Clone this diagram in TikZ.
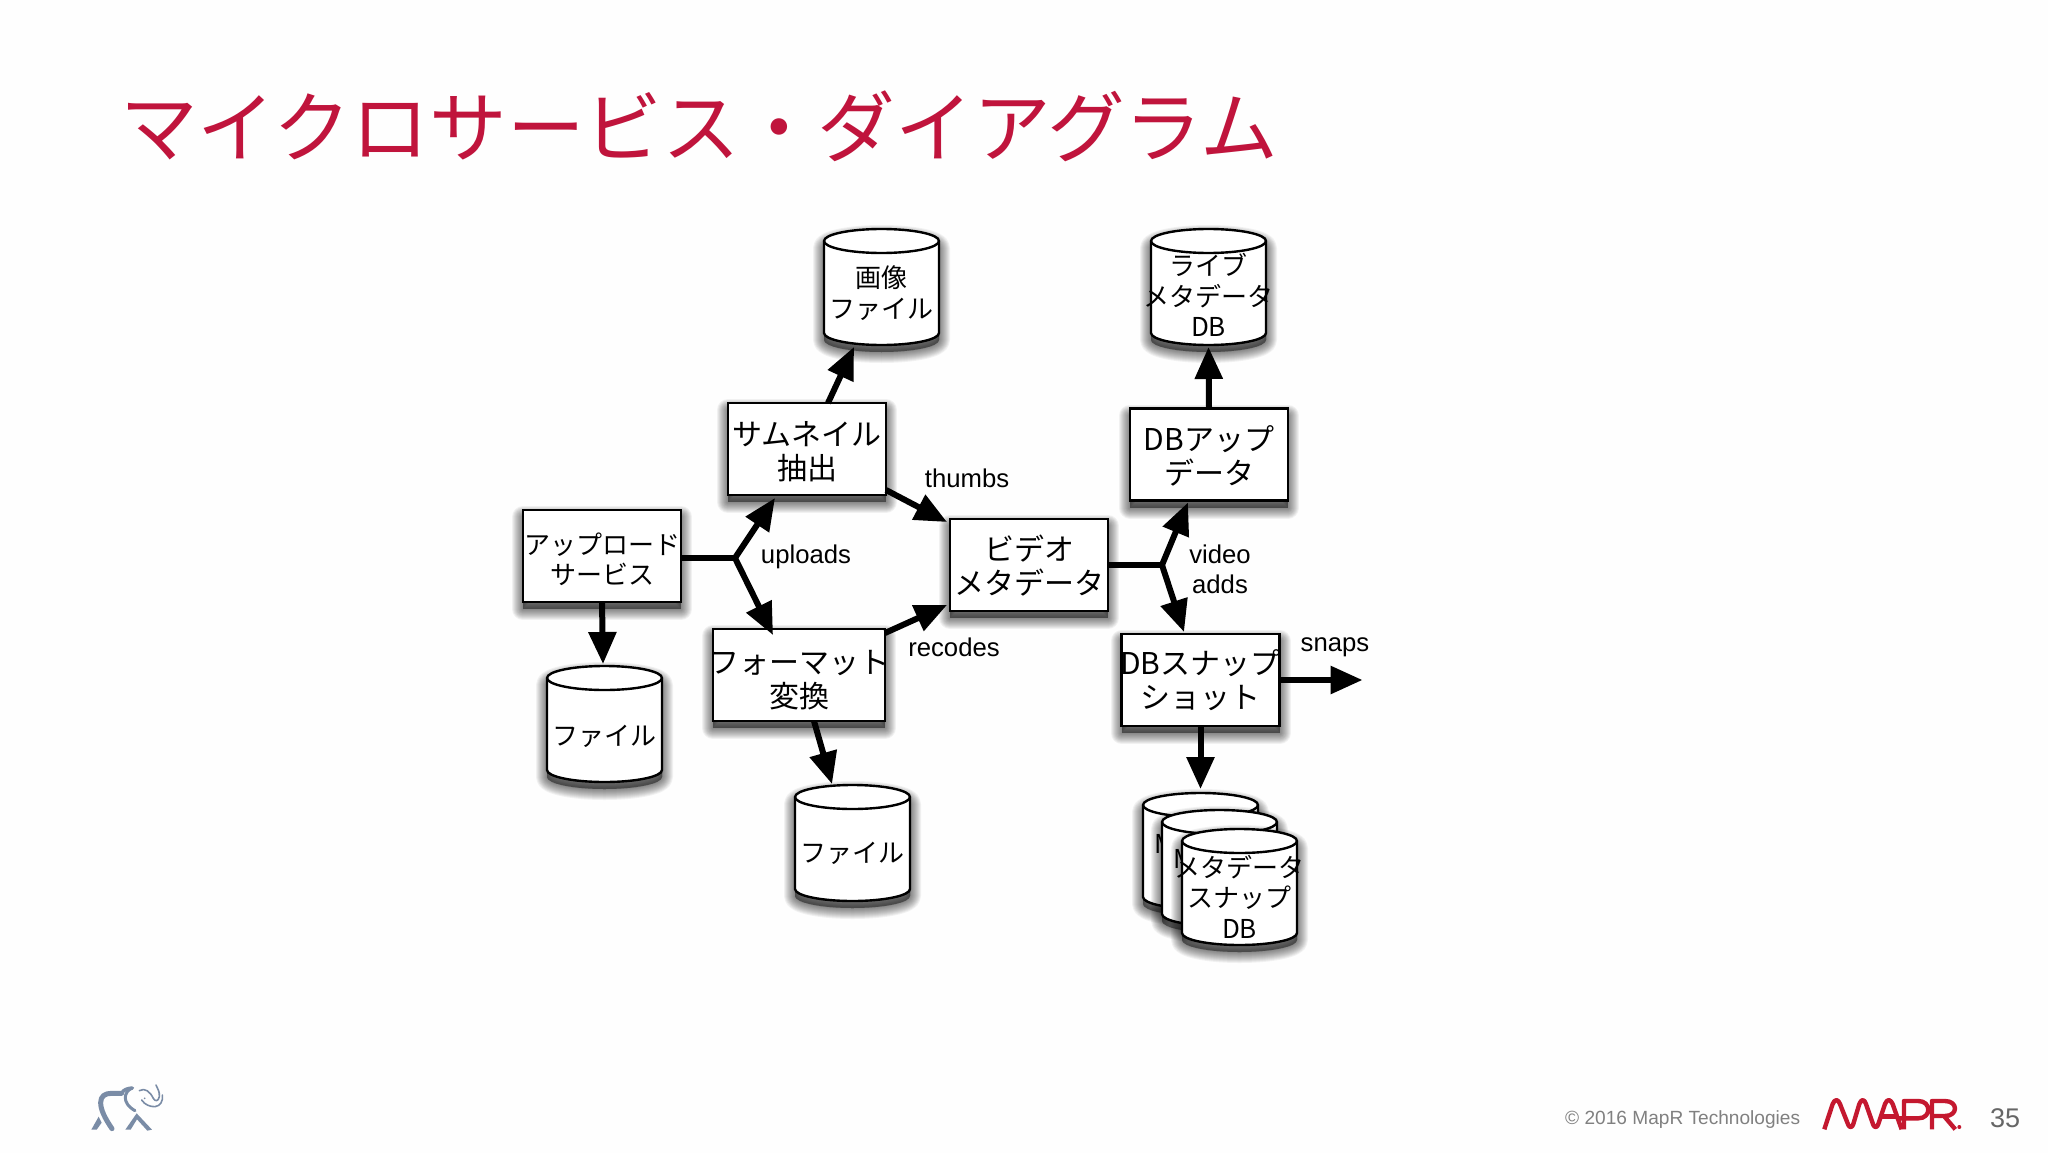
\documentclass[tikz,border=0pt]{standalone}
\usepackage{fontspec}
\setmainfont{Liberation Sans}
\newfontfamily\cjk{Noto Sans CJK JP}
\usetikzlibrary{arrows.meta,calc}
\definecolor{titlered}{HTML}{C0143C}
\definecolor{logored}{HTML}{C4182F}
\definecolor{elephant}{HTML}{7A8CA6}
\newcommand\ov[2][0pt]{\raisebox{-#1}[0pt][0pt]{\makebox[0pt][c]{#2}}}
\tikzset{
  shpass/.style={preaction={draw=black,fill=black,draw opacity=.05,fill opacity=.05,line join=round,line width=#1,transform canvas={yshift=-7pt}}},
  softshadow/.style={shpass=22pt,shpass=20pt,shpass=18pt,shpass=16pt,shpass=14pt,shpass=12pt,shpass=10pt,shpass=8pt,shpass=6pt,shpass=4pt,shpass=2pt},
  procbox/.style={draw=black,fill=white,line width=2.6pt,inner sep=0pt,outer sep=0pt,minimum height=92pt,align=center,softshadow,font=\cjk\fontsize{30}{34}\selectfont},
  cylbody/.style={draw=black,fill=white,line width=2.4pt,softshadow},
  cylline/.style={draw=black,line width=2.4pt},
  cyltext/.style={inner sep=0pt,outer sep=0pt,minimum width=115pt,minimum height=104pt,align=center,font=\cjk\fontsize{26}{30.5}\selectfont},
  lnk/.style={draw=black,line width=6pt},
  arr/.style={lnk,-{Triangle[length=32pt,width=27pt]}},
  lbl/.style={inner sep=0pt,font=\fontsize{25.7}{29}\selectfont,align=center},
  foot/.style={inner sep=0pt,text=black!50,font=\fontsize{19.1}{22}\selectfont},
  logoline/.style={draw=logored,line width=4.4pt,line join=round,line cap=butt},
  eleline/.style={draw=elephant,line cap=round,line join=round},
}
\newcommand\dbcyl[4]{%
  \begin{scope}[shift={(#2,#3)}]
    \draw[cylbody] (0,12) arc[start angle=180,end angle=0,x radius=57.5pt,y radius=12pt] -- (115,104) arc[start angle=0,end angle=-180,x radius=57.5pt,y radius=12pt] -- cycle;
    \draw[cylline] (0,12) arc[start angle=180,end angle=360,x radius=57.5pt,y radius=12pt];
    \node[cyltext] (#1) at (57.5,64) {#4};
  \end{scope}}
\begin{document}
\begin{tikzpicture}[x=1pt,y=-1pt]
\fill[fill=black!0.5!white] (0,0) rectangle (2048,1153);
\useasboundingbox (0,0) rectangle (2048,1153);

\node[inner sep=0pt,text=titlered,font=\cjk\fontsize{77.7}{86}\selectfont] (title) at (699,126) {マイクロサービス・ダイアグラム};

% process boxes
\node[procbox,minimum width=158pt] (thumb) at (807,449) {\ov[13.3pt]{サムネイル}\\\ov[13.3pt]{抽出}};
\node[procbox,minimum width=158pt,font=\cjk\fontsize{26}{30}\selectfont] (upload) at (602,556) {\ov[13.5pt]{アップロード}\\\ov[13.5pt]{サービス}};
\node[procbox,minimum width=172pt] (format) at (799,675) {\ov[15.6pt]{フォーマット}\\\ov[15.6pt]{変換}};
\node[procbox,minimum width=158pt] (video) at (1029,565) {\ov[12pt]{ビデオ}\\\ov[12pt]{メタデータ}};
\node[procbox,minimum width=158pt] (dbup) at (1209,454.5) {\ov[13.4pt]{DBアップ}\\\ov[13.4pt]{データ}};
\node[procbox,minimum width=158pt] (snap) at (1200.5,680) {\ov[11.9pt]{DBスナップ}\\\ov[11.9pt]{ショット}};

% databases
\dbcyl{image}{824}{229}{\ov[10pt]{画像}\\\ov[10pt]{ファイル}}
\dbcyl{live}{1151}{229}{\ov[13.3pt]{ライブ}\\\ov[13.3pt]{メタデータ}\\\ov[13.3pt]{DB}}
\dbcyl{file1}{547}{666}{\ov[15.1pt]{ファイル}}
\dbcyl{file2}{795}{785}{\ov[13.8pt]{ファイル}}
\dbcyl{snapa}{1143}{793}{\ov[-4pt]{\hspace*{-70pt}M}}
\dbcyl{snapb}{1162}{810}{\ov[-6pt]{\hspace*{-70pt}M}}
\dbcyl{snapc}{1182}{829}{\ov[14.5pt]{メタデータ}\\\ov[14.5pt]{スナップ}\\\ov[14.5pt]{DB}}

% connectors
\coordinate (j1) at ($(upload.east)+(54,2)$);
\coordinate (j2) at ($(video.east)+(54,0)$);
\draw[lnk] ($(upload.east)+(0,2)$) -- (j1);
\draw[arr] (j1) -- ($(thumb.south)+(-32,3)$);
\draw[arr] (j1) -- ($(format.north)+(-26,6)$);
\draw[arr] ($(thumb.east)+(0,41)$) -- ($(video.north west)+(-3,3)$);
\draw[arr] ($(format.east)+(0,-42)$) -- ($(video.south west)+(-3,-6)$);
\draw[arr] ($(thumb.north)+(21,0)$) -- ($(image.south)+(-27.5,2)$);
\draw[arr] (upload.south) -- ($(file1.north)+(-1.5,-14)$);
\draw[arr] ($(format.south)+(15,0)$) -- ($(file2.north)+(-20.5,-13)$);
\draw[lnk] (video.east) -- (j2);
\draw[arr] (j2) -- ($(dbup.south)+(-21,2)$);
\draw[arr] (j2) -- ($(snap.north)+(-16.5,-2)$);
\draw[arr] (dbup.north) -- ($(live.south)+(0,2)$);
\coordinate (snapout) at ($(snap.east)+(83,0)$);
\draw[arr] (snap.east) -- (snapout);
\draw[arr] (snap.south) -- ($(snapa.north)+(0,-16)$);

% connector labels
\node[lbl] (luploads) at (806,556.5) {uploads};
\node[lbl] (lthumbs) at (967,478) {thumbs};
\node[lbl] (lrecodes) at (954,647) {recodes};
\node[lbl] (lvideo) at (1220,554) {video};
\node[lbl] (ladds) at (1220,584) {adds};
\node[lbl] (lsnaps) at (1335,647) {snaps};

% footer
\node[foot,anchor=west] (copy) at (1565,1120) {© 2016 MapR Technologies};
\node[foot,text=black!60,font=\fontsize{27}{30}\selectfont,anchor=west] (pagenum) at (1990,1118) {35};

% MapR logo
\begin{scope}[shift={(1540,1070)},x=0.3333pt,y=-0.3333pt]
  \draw[logoline] (853,178) -- (878,102) .. controls (885,85) and (895,88) .. (900,102) -- (925,165) .. controls (930,175) and (937,172) .. (940,162) -- (958,102) .. controls (965,85) and (973,88) .. (978,102) -- (1000,165) .. controls (1005,175) and (1012,172) .. (1015,162) -- (1035,102) .. controls (1042,85) and (1052,88) .. (1058,102) -- (1085,178);
  \draw[logoline] (1024,140) -- (1070,140);
  \draw[logoline] (1092,178) -- (1092,93) -- (1135,93) .. controls (1175,93) and (1175,145) .. (1135,145) -- (1075,145);
  \draw[logoline] (1176,178) -- (1176,93) -- (1215,93) .. controls (1255,93) and (1255,138) .. (1215,138) -- (1185,138) -- (1212,138) -- (1246,178);
  \fill[logored] (1258,171) circle[radius=6];
\end{scope}

% elephant logo
\begin{scope}[shift={(60,1060)},x=0.3333pt,y=-0.3333pt]
  \draw[eleline,line width=5pt] (156,206) .. controls (135,175) and (122,150) .. (122,128) .. controls (122,108) and (135,100) .. (155,100) -- (185,100);
  \draw[eleline,line width=3.5pt] (185,100) .. controls (190,88) and (205,85) .. (217,84);
  \draw[eleline,line width=3pt] (217,84) .. controls (190,95) and (185,130) .. (225,152);
  \draw[eleline,line width=1.6pt] (238,92) .. controls (255,82) and (270,95) .. (280,115) .. controls (285,125) and (295,125) .. (298,110) .. controls (300,95) and (292,85) .. (288,75);
  \draw[eleline,line width=1.6pt] (245,120) .. controls (255,135) and (270,140) .. (285,140) .. controls (300,138) and (310,125) .. (307,105);
  \fill[elephant] (94,209) -- (116,170) -- (125,188) -- (110,209) -- cycle;
  \fill[elephant] (196,209) -- (230,160) -- (276,209) -- (262,212) -- (231,178) -- (212,209) -- cycle;
  \fill[elephant] (254,115) circle[radius=3];
\end{scope}
\end{tikzpicture}
\end{document}
